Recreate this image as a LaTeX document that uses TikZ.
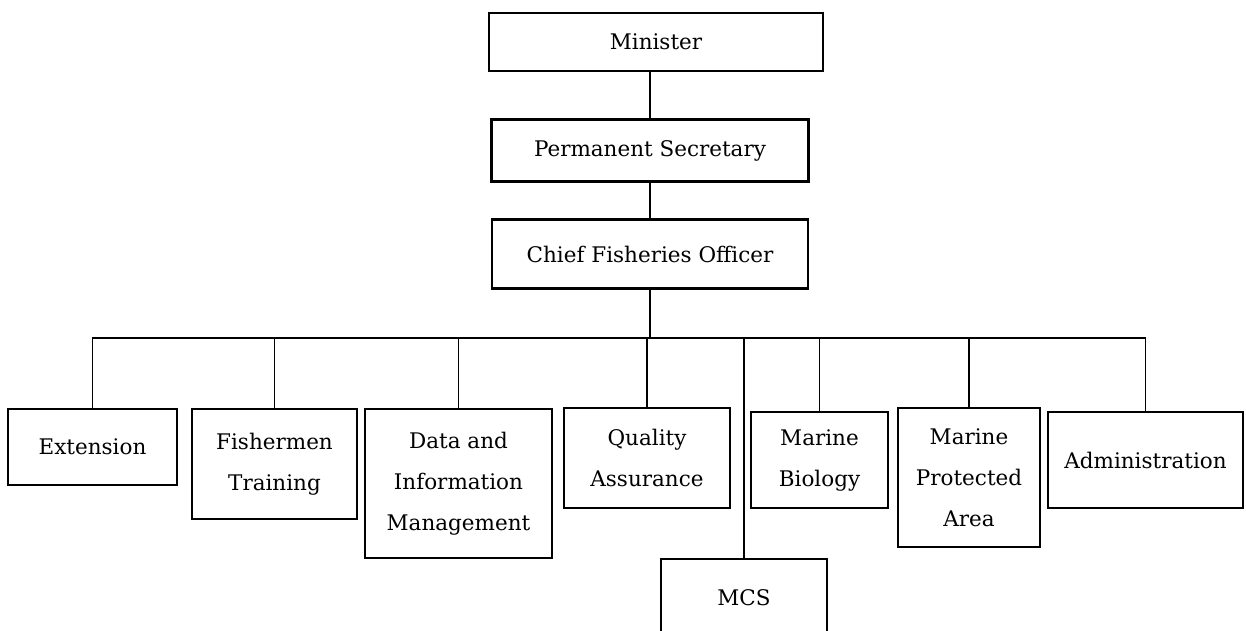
\documentclass[tikz,border=0pt]{standalone}
\usepackage{tikz}
\usepackage{fontspec}
\setmainfont{DejaVu Serif}
\usetikzlibrary{positioning}

\begin{document}
\begin{tikzpicture}[x=1pt, y=1pt, every node/.style={font=\fontsize{21.5}{41}\selectfont, align=center},
  unit/.style={rectangle, draw, line width=2.8pt, inner sep=0pt},
  link/.style={line width=1.4pt}]
\clip (0,0) rectangle (1246,630);
\node (minister) [unit, minimum width=334, minimum height=58] at (656,588) {Minister};
\node (secretary) [unit, minimum width=317, minimum height=62, below=46 of minister, xshift=-6] {Permanent Secretary};
\node (chief) [unit, minimum width=316, minimum height=69, below=35 of secretary] {Chief Fisheries Officer};
\coordinate (bus) at (650,292);

\node (extension) [unit, minimum width=169, minimum height=76] at (92.5,183) {Extension};
\node (training) [unit, minimum width=165, minimum height=110] at (274.5,166) {Fishermen\\Training};
\node (data) [unit, minimum width=187, minimum height=149] at (458.5,146.5) {Data and\\Information\\Management};
\node (quality) [unit, minimum width=166, minimum height=100] at (647,172) {Quality\\Assurance};
\node (mcs) [unit, minimum width=166, minimum height=78] at (744,32) {MCS};
\node (biology) [unit, minimum width=137, minimum height=96] at (819.5,170) {Marine\\Biology};
\node (protected) [unit, minimum width=142, minimum height=139] at (969,152.5) {Marine\\Protected\\Area};
\node (admin) [unit, minimum width=195, minimum height=96] at (1145.5,170) {Administration};

\draw[link] (minister.south -| secretary.north) -- (secretary.north);
\draw[link] (secretary) -- (chief);
\draw[link] (chief.south) -- (chief.south |- bus);
\draw[link] (extension.north) -- (extension.north |- bus) -- (admin.north |- bus) -- (admin.north);
\draw[link] (training.north) -- (training.north |- bus);
\draw[link] (data.north) -- (data.north |- bus);
\draw[link] (quality.north) -- (quality.north |- bus);
\draw[link] (mcs.north) -- (mcs.north |- bus);
\draw[link] (biology.north) -- (biology.north |- bus);
\draw[link] (protected.north) -- (protected.north |- bus);
\end{tikzpicture}
\end{document}
